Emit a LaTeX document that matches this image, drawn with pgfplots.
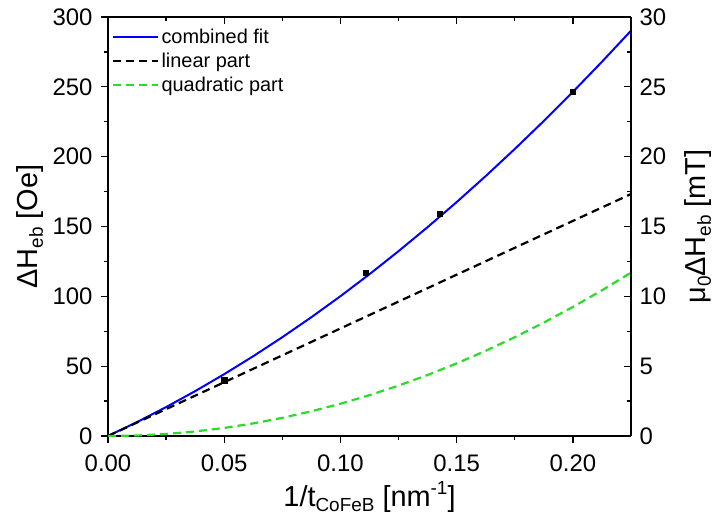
\documentclass[border=0pt]{standalone}
\usepackage{fontspec}
\setmainfont{Liberation Sans}
\usepackage{pgfplots}
\pgfplotsset{compat=1.18}
\definecolor{fitblue}{RGB}{0,0,255}
\definecolor{quadgreen}{RGB}{40,220,40}
\newcommand\lsub[1]{\raisebox{-0.35ex}{\fontsize{19}{21}\selectfont #1}}
\newcommand\lsup[1]{\raisebox{0.75ex}{\fontsize{19}{21}\selectfont #1}}
\pgfplotsset{
  common/.style={
    at={(0bp,0bp)}, anchor=south west, scale only axis,
    width=523bp, height=419bp,
    xmin=0, xmax=0.225,
    axis line style={line width=1.3bp, -},
    every tick/.style={line width=1.3bp, black},
    major tick length=7bp, minor tick length=4bp,
    xtick={0,0.05,0.1,0.15,0.2}, minor x tick num=1,
    minor y tick num=1,
    ticklabel style={font=\fontsize{24}{28}\selectfont},
    /pgf/number format/assume math mode=true,
    label style={font=\fontsize{29}{33}\selectfont},
  }
}
\begin{document}
\begin{tikzpicture}
\useasboundingbox (-108bp,-87bp) rectangle (609bp,436bp);
\begin{axis}[common,
  ymin=0, ymax=300,
  axis x line*=bottom, axis y line*=left,
  tick align=outside,
  ytick={0,50,100,150,200,250,300},
  xticklabel style={yshift=-8bp, /pgf/number format/.cd, fixed, fixed zerofill, precision=2},
  yticklabel style={xshift=-5bp},
  xlabel={1/t\lsub{CoFeB} [nm\lsup{-1}]},
  ylabel={ΔH\lsub{eb} [Oe]},
  xlabel style={at={(axis description cs:0.5,-0.146)}, anchor=center},
  ylabel style={at={(axis description cs:-0.149,0.5)}, anchor=center},
  legend style={at={(axis description cs:0.006,0.978)}, anchor=north west,
    draw=none, fill=none, font=\fontsize{20}{24}\selectfont,
    row sep=4bp, inner sep=1bp},
  legend cell align=left,
  legend image code/.code={\draw[#1] (0bp,0bp) -- (45bp,0bp);},
]
\addplot[fitblue, line width=2bp] coordinates {
(0,0) (0.0125,9.986) (0.025,20.694) (0.0375,32.123) (0.05,44.275)
(0.0625,57.148) (0.075,70.744) (0.0875,85.061) (0.1,100.1)
(0.1125,115.861) (0.125,132.344) (0.1375,149.549) (0.15,167.475)
(0.1625,186.123) (0.175,205.494) (0.1875,225.586) (0.2,246.4)
(0.2125,267.936) (0.225,290.194)};
\addlegendentry{combined fit}
\addplot[black, line width=2.2bp, dash pattern=on 8bp off 5bp] coordinates {
(0,0) (0.0125,9.625) (0.025,19.25) (0.0375,28.875) (0.05,38.5)
(0.0625,48.125) (0.075,57.75) (0.0875,67.375) (0.1,77.0)
(0.1125,86.625) (0.125,96.25) (0.1375,105.875) (0.15,115.5)
(0.1625,125.125) (0.175,134.75) (0.1875,144.375) (0.2,154.0)
(0.2125,163.625) (0.225,173.25)};
\addlegendentry{linear part}
\addplot[quadgreen, line width=2.2bp, dash pattern=on 8bp off 5bp] coordinates {
(0,0) (0.0125,0.361) (0.025,1.444) (0.0375,3.248) (0.05,5.775)
(0.0625,9.023) (0.075,12.994) (0.0875,17.686) (0.1,23.1)
(0.1125,29.236) (0.125,36.094) (0.1375,43.674) (0.15,51.975)
(0.1625,60.998) (0.175,70.744) (0.1875,81.211) (0.2,92.4)
(0.2125,104.311) (0.225,116.944)};
\addlegendentry{quadratic part}
\addplot[only marks, mark=square*, mark size=2.6bp, black, forget plot] coordinates {
(0.05,40) (0.1107,117) (0.1428,159) (0.2,246.5)};
\end{axis}
\begin{axis}[common,
  ymin=0, ymax=30,
  axis x line*=top, axis y line*=right,
  tick align=inside,
  xticklabels={},
  ytick={0,5,10,15,20,25,30},
  yticklabel style={xshift=5bp},
  ylabel={μ\lsub{0}ΔH\lsub{eb} [mT]},
  ylabel style={at={(axis description cs:1.128,0.5)}, anchor=center, rotate=0},
]
\addplot[draw=none] coordinates {(0,0)};
\end{axis}
\end{tikzpicture}
\end{document}
